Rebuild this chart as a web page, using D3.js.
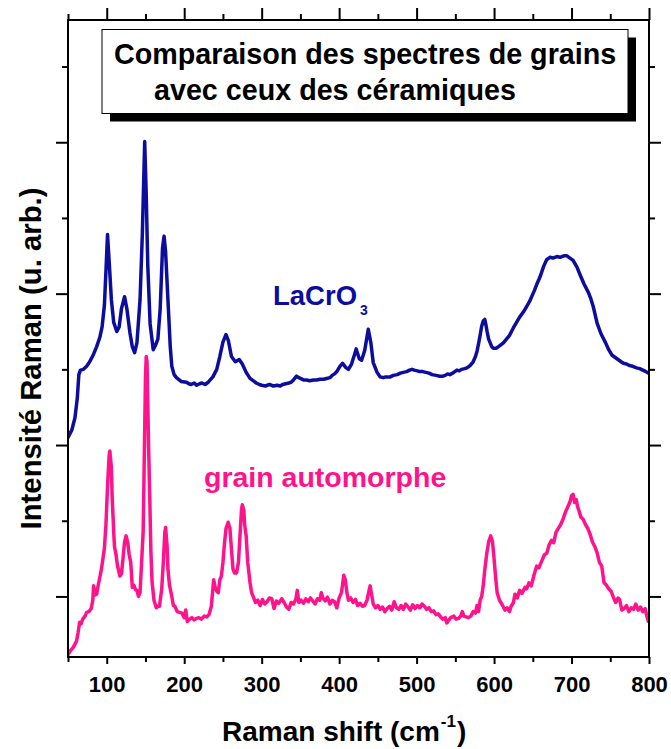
<!DOCTYPE html>
<html>
<head>
<meta charset="utf-8">
<script src="https://cdn.jsdelivr.net/npm/d3@7"></script>
<style>
  html, body { margin: 0; padding: 0; background: #fff; }
  svg { display: block; }
  text { font-family: "Liberation Sans", Arial, sans-serif; font-weight: bold; }
</style>
</head>
<body>
<svg id="chart" width="671" height="749"></svg>
<script>
// Raman spectrum of the LaCrO3 ceramic: [shift (cm-1), intensity (u. arb.)]
const lacro3 = [
  [50,3.10],[55,3.20],[59,3.36],[62,3.62],[64,3.93],[66,3.99],[70,4.00],[74,4.04],
  [78,4.10],[83,4.20],[87,4.30],[91,4.42],[94,4.56],[97,4.85],[99,5.30],[101,5.78],
  [103,5.45],[106,4.92],[109,4.62],[113,4.50],[116,4.56],[119,4.80],[123,4.96],[126,4.80],
  [130,4.48],[133,4.30],[136,4.22],[139,4.35],[143,4.92],[146,5.80],[149,7.01],[151,6.30],
  [153,5.37],[156,4.60],[160,4.26],[163,4.32],[166,4.40],[169,4.80],[172,5.60],[174,5.76],
  [176,5.55],[179,4.92],[182,4.30],[184,4.04],[187,3.93],[190,3.89],[196,3.84],[203,3.83],
  [206,3.81],[209,3.80],[213,3.82],[216,3.79],[220,3.81],[223,3.82],[227,3.80],[231,3.83],
  [237,3.90],[242,4.00],[246,4.17],[250,4.36],[254,4.46],[257,4.38],[261,4.17],[266,4.10],
  [271,4.13],[275,4.07],[280,3.96],[285,3.88],[289,3.85],[293,3.82],[297,3.80],[300,3.79],
  [305,3.78],[310,3.80],[315,3.78],[320,3.79],[324,3.78],[327,3.80],[331,3.81],[335,3.82],
  [338,3.83],[341,3.86],[345,3.91],[348,3.89],[350,3.88],[354,3.86],[358,3.86],[362,3.85],
  [367,3.86],[371,3.86],[375,3.87],[380,3.87],[384,3.88],[388,3.89],[391,3.92],[394,3.94],
  [397,3.97],[401,4.04],[404.5,4.08],[408,4.03],[412,4.00],[416,4.07],[420,4.20],[422,4.27],
  [426,4.14],[429,4.12],[433,4.25],[437.6,4.53],[441,4.35],[444,4.09],[449,3.96],[453,3.90],
  [457,3.89],[460,3.90],[466,3.90],[470,3.92],[475,3.93],[479,3.95],[483,3.96],[487,3.97],
  [491,3.99],[494,4.00],[497,3.99],[501,3.98],[504,3.97],[508,3.97],[512,3.96],[516,3.95],
  [520,3.93],[525,3.92],[530,3.91],[534,3.91],[537,3.92],[540,3.94],[543,3.93],[548,3.96],
  [552,3.99],[555,3.98],[558,4.00],[562,4.01],[565,4.02],[569,4.05],[573,4.10],[576,4.17],
  [578,4.24],[580,4.34],[582,4.45],[584,4.57],[586,4.64],[588,4.66],[590,4.56],[591,4.50],
  [593,4.40],[595,4.35],[597,4.30],[599,4.28],[603,4.28],[607,4.31],[612,4.35],[616,4.40],
  [620,4.45],[625,4.55],[629,4.62],[633,4.69],[638,4.76],[642,4.83],[646,4.90],[649,4.97],
  [652,5.04],[655,5.12],[658,5.19],[660,5.24],[664,5.36],[668,5.45],[672,5.48],[676,5.47],
  [681,5.49],[685,5.48],[690,5.50],[694,5.50],[698,5.47],[702,5.44],[707,5.35],[711,5.25],
  [716,5.13],[722,5.01],[725,4.93],[728,4.83],[733,4.61],[738,4.47],[741,4.41],[744,4.35],
  [748,4.26],[752,4.19],[756,4.16],[760,4.13],[764,4.10],[767,4.08],[771,4.07],[775,4.05],
  [779,4.04],[784,4.02],[788,4.01],[792,3.99],[796,3.97],[799,3.95]
];

// Raman spectrum of the automorphic grain: [shift (cm-1), intensity (u. arb.)]
const grain = [
  [50,0.23],[53,0.28],[57,0.33],[61,0.41],[63,0.52],[65,0.66],[67,0.64],[69,0.70],
  [72,0.74],[74,0.79],[77,0.80],[80,0.84],[82,0.95],[83,1.14],[85,1.02],[87,1.03],
  [89,1.15],[91,1.25],[93,1.35],[95,1.49],[97,1.64],[99,1.95],[101,2.45],[103,2.85],
  [104,2.92],[106,2.70],[107,2.32],[109,1.85],[110,1.66],[112,1.55],[114,1.40],[117,1.27],
  [119,1.30],[121,1.50],[123,1.72],[125,1.80],[127,1.72],[129,1.55],[131,1.45],[133,1.12],
  [135,1.15],[137,1.09],[139,1.08],[141,1.00],[143,1.05],[145,1.45],[147,1.85],[148,2.50],
  [150,3.90],[151,4.17],[152,4.10],[154,3.00],[155.5,2.32],[157,1.60],[158.5,1.19],[161,0.95],
  [164,0.85],[166,0.87],[168,0.87],[171,1.10],[173,1.45],[175,1.85],[176,1.91],[178,1.65],
  [179,1.36],[181,1.15],[184,1.00],[186,0.88],[188,0.87],[191,0.80],[194,0.79],[197,0.78],
  [200,0.72],[202,0.82],[204,0.67],[207,0.70],[210,0.72],[213,0.69],[216,0.71],[219,0.72],
  [222,0.70],[226,0.74],[229,0.73],[232,0.76],[235,0.87],[237,1.10],[238,1.22],[240,1.12],
  [242,1.07],[244,1.05],[246,1.22],[248,1.27],[250,1.45],[252,1.70],[254,1.90],[256.7,1.98],
  [259,1.90],[261,1.62],[263,1.36],[265,1.31],[267.6,1.31],[270,1.45],[272,1.80],[274,2.15],
  [275,2.21],[277,2.14],[278,1.95],[280,1.80],[282,1.45],[285,1.18],[287,1.05],[289,1.00],
  [292,0.92],[295,0.95],[298,0.88],[301,0.96],[304,0.90],[307,0.93],[310,0.98],[313,0.97],
  [316,0.84],[319,0.94],[322,0.91],[326,0.97],[329,0.92],[332,0.86],[335,0.83],[338,0.92],
  [341,0.90],[344,0.96],[346,1.08],[348,0.92],[351,0.95],[354,0.91],[357,0.97],[360,0.93],
  [363,0.98],[366,0.94],[369,0.90],[372,0.97],[375,0.95],[377,1.05],[379,0.98],[382,0.94],
  [385,0.99],[388,0.90],[391,0.95],[394,0.93],[397,0.85],[400,0.98],[403,1.05],[406,1.28],
  [408,1.22],[410,1.05],[412,0.95],[415,0.98],[418,0.92],[421,0.96],[424,0.88],[427,0.91],
  [430,0.87],[433,0.88],[436,0.95],[438,1.05],[440,1.14],[442,1.02],[444,0.90],[447,0.85],
  [450,0.88],[453,0.83],[456,0.86],[459,0.80],[462,0.84],[465,0.87],[468,0.82],[471,0.93],
  [474,0.85],[477,0.83],[480,0.88],[483,0.83],[486,0.90],[489,0.86],[492,0.82],[495,0.89],
  [498,0.84],[501,0.88],[504,0.85],[507,0.90],[510,0.87],[513,0.83],[516,0.85],[519,0.80],
  [522,0.81],[525,0.76],[528,0.77],[531,0.73],[534,0.70],[537,0.72],[539,0.65],[541,0.68],
  [544,0.72],[548,0.74],[551,0.70],[554,0.71],[557,0.74],[559,0.80],[561,0.74],[564,0.73],
  [567,0.72],[570,0.74],[573,0.80],[576,0.78],[578,0.88],[580,0.80],[582,0.95],[584,1.00],
  [586,1.14],[588,1.35],[590.6,1.57],[593,1.72],[595.7,1.80],[598,1.72],[600,1.50],[602,1.25],
  [604,1.05],[607,0.95],[610,0.90],[612,0.86],[614,0.82],[617,0.85],[620,0.80],[622,0.87],
  [625,0.92],[627,1.03],[630,0.98],[633,1.08],[636,1.04],[640,1.12],[642,1.10],[645,1.18],
  [648,1.14],[652,1.30],[655,1.40],[658,1.38],[662,1.48],[665,1.55],[668,1.57],[671,1.68],
  [674,1.74],[677,1.71],[680,1.85],[683,1.90],[686,1.95],[689,2.02],[692,2.11],[695,2.18],
  [698,2.25],[700,2.33],[702,2.35],[704,2.24],[706,2.28],[708,2.18],[710,2.12],[712,2.05],
  [715,2.02],[718,1.95],[721,1.90],[724,1.82],[727,1.72],[730,1.66],[733,1.58],[736,1.45],
  [739,1.40],[742,1.18],[745,1.15],[748,1.10],[751,1.07],[754,0.99],[757,0.92],[760,0.98],
  [762,0.96],[765,0.82],[768,0.84],[771,0.88],[774,0.80],[777,0.85],[780,0.83],[783,0.90],
  [786,0.82],[789,0.86],[792,0.80],[795,0.84],[797,0.75],[799,0.67]
];

// Axis ticks
const xMajorTicks = [100, 200, 300, 400, 500, 600, 700, 800];
const xMinorTicks = [50, 150, 250, 350, 450, 550, 650, 750];
const yMajorTicks = [1, 3, 5, 7];
const yMinorTicks = [2, 4, 6, 8];

// Texts
const titleLines = ["Comparaison des spectres de grains", "avec ceux des céramiques"];
const xTitle = "Raman shift (cm";
const yTitle = "Intensité Raman (u. arb.)";

const W = 671, H = 749;
const plot = { left: 68, right: 649, top: 20, bottom: 657 };
const blue = "#0c0c9e", pink = "#ff138c";

const svg = d3.select("#chart");

const x = d3.scaleLinear().domain([50, 800]).range([plot.left, plot.right]);
const y = d3.scaleLinear().domain([0.2, 8.615]).range([plot.bottom, plot.top]);

svg.append("defs").append("clipPath").attr("id", "plotClip")
  .append("rect")
  .attr("x", plot.left).attr("y", plot.top)
  .attr("width", plot.right - plot.left).attr("height", plot.bottom - plot.top);

// Axes: outward ticks on all four sides, labels only at the bottom
function styleAxis(g) {
  g.select(".domain").remove();
  g.selectAll(".tick line").attr("stroke", "#000").attr("stroke-width", 2);
}

svg.append("g").attr("transform", `translate(0,${plot.bottom})`)
  .call(d3.axisBottom(x).tickValues(xMajorTicks).tickSize(7).tickPadding(12).tickFormat(d3.format("d")))
  .call(styleAxis)
  .call(g => g.selectAll(".tick text").attr("fill", "#000").attr("font-size", 22)
    .attr("font-family", "Liberation Sans, Arial, sans-serif").attr("font-weight", "bold"));
svg.append("g").attr("transform", `translate(0,${plot.bottom})`)
  .call(d3.axisBottom(x).tickValues(xMinorTicks).tickSize(5).tickFormat(""))
  .call(styleAxis);

svg.append("g").attr("transform", `translate(0,${plot.top})`)
  .call(d3.axisTop(x).tickValues(xMajorTicks).tickSize(12).tickFormat(""))
  .call(styleAxis);
svg.append("g").attr("transform", `translate(0,${plot.top})`)
  .call(d3.axisTop(x).tickValues(xMinorTicks).tickSize(6).tickFormat(""))
  .call(styleAxis);

svg.append("g").attr("transform", `translate(${plot.left},0)`)
  .call(d3.axisLeft(y).tickValues(yMajorTicks).tickSize(12).tickFormat(""))
  .call(styleAxis);
svg.append("g").attr("transform", `translate(${plot.left},0)`)
  .call(d3.axisLeft(y).tickValues(yMinorTicks).tickSize(6).tickFormat(""))
  .call(styleAxis);

svg.append("g").attr("transform", `translate(${plot.right},0)`)
  .call(d3.axisRight(y).tickValues(yMajorTicks).tickSize(12).tickFormat(""))
  .call(styleAxis);
svg.append("g").attr("transform", `translate(${plot.right},0)`)
  .call(d3.axisRight(y).tickValues(yMinorTicks).tickSize(6).tickFormat(""))
  .call(styleAxis);

// Spectra
const line = d3.line().x(d => x(d[0])).y(d => y(d[1]));
const curves = svg.append("g").attr("clip-path", "url(#plotClip)");
curves.append("path").datum(lacro3).attr("d", line)
  .attr("fill", "none").attr("stroke", blue).attr("stroke-width", 3.5)
  .attr("stroke-linejoin", "round").attr("stroke-linecap", "round");
curves.append("path").datum(grain).attr("d", line)
  .attr("fill", "none").attr("stroke", pink).attr("stroke-width", 3.5)
  .attr("stroke-linejoin", "round").attr("stroke-linecap", "round");

// Frame
svg.append("rect")
  .attr("x", plot.left).attr("y", plot.top)
  .attr("width", plot.right - plot.left).attr("height", plot.bottom - plot.top)
  .attr("fill", "none").attr("stroke", "#000").attr("stroke-width", 2);

// Title box with drop shadow
const box = { x: 102, y: 29.5, w: 526, h: 84, shadow: 8 };
svg.append("rect").attr("x", box.x + box.shadow).attr("y", box.y + box.shadow)
  .attr("width", box.w).attr("height", box.h).attr("fill", "#000");
svg.append("rect").attr("x", box.x).attr("y", box.y)
  .attr("width", box.w).attr("height", box.h)
  .attr("fill", "#fff").attr("stroke", "#000").attr("stroke-width", 1);
svg.append("text").attr("x", 114).attr("y", 63.5).attr("font-size", 28.7).attr("fill", "#000")
  .text(titleLines[0]);
svg.append("text").attr("x", 154).attr("y", 99.5).attr("font-size", 28.7).attr("fill", "#000")
  .text(titleLines[1]);

// Series labels
const lab = svg.append("text").attr("x", 273).attr("y", 305).attr("font-size", 27.5).attr("fill", blue);
lab.append("tspan").text("LaCrO");
lab.append("tspan").attr("dx", 3).attr("dy", 10).attr("font-size", 14).text("3");

svg.append("text").attr("x", 204).attr("y", 487).attr("font-size", 28.5).attr("fill", pink)
  .text("grain automorphe");

// Axis titles
const xt = svg.append("text").attr("x", 222).attr("y", 741).attr("font-size", 28).attr("fill", "#000");
xt.append("tspan").text(xTitle);
xt.append("tspan").attr("font-size", 17).attr("dy", -14).attr("dx", 1).text("-1");
xt.append("tspan").attr("font-size", 28).attr("dy", 14).attr("dx", 1).text(")");

svg.append("text")
  .attr("transform", `translate(41,${(plot.top + plot.bottom) / 2 + 20}) rotate(-90)`)
  .attr("text-anchor", "middle").attr("font-size", 29.3).attr("fill", "#000")
  .text(yTitle);
</script>
</body>
</html>
